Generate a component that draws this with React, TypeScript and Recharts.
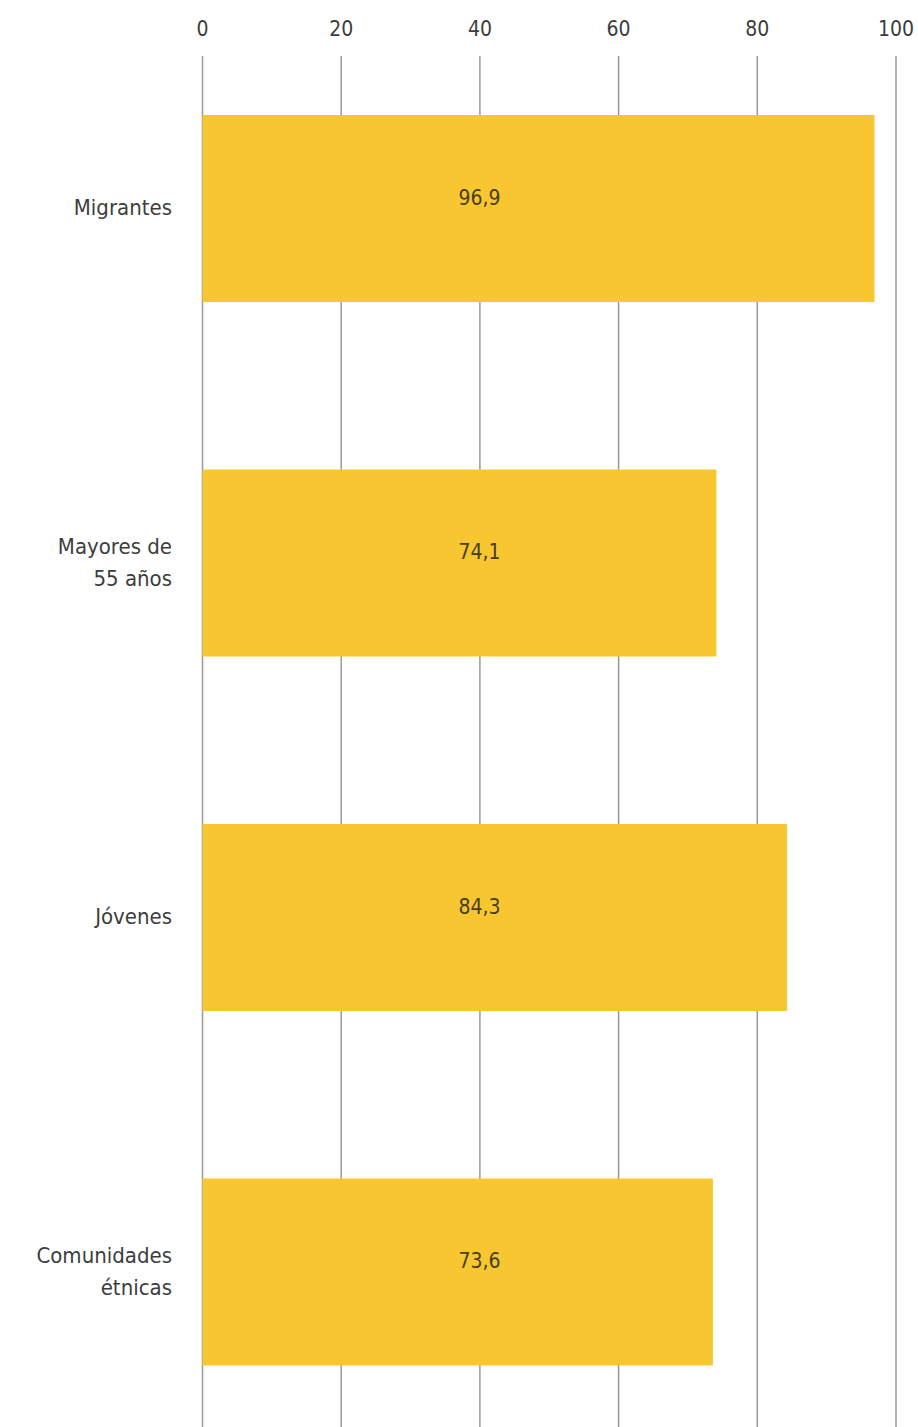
import { BarChart, Bar, XAxis, YAxis, CartesianGrid, LabelList } from "recharts";

const categories = ["Migrantes", "Mayores de 55 años", "Jóvenes", "Comunidades étnicas"];
const categoryLines = [["Migrantes"], ["Mayores de", "55 años"], ["Jóvenes"], ["Comunidades", "étnicas"]];
const values = [96.9, 74.1, 84.3, 73.6];
const ticks = [0, 20, 40, 60, 80, 100];

const data = categories.map((name, i) => ({ name, value: values[i], lines: categoryLines[i] }));

const FONT = "'DejaVu Sans Condensed', 'DejaVu Sans', sans-serif";
const TEXT = "#3d3d3d";

// eslint-disable-next-line @typescript-eslint/no-explicit-any
const XTick = (props: any) => {
  const { x, payload } = props;
  return (
    <text x={x} y={36} textAnchor="middle" fontFamily={FONT} fontSize={21} fill={TEXT}>
      {payload.value}
    </text>
  );
};

// eslint-disable-next-line @typescript-eslint/no-explicit-any
const YTick = (props: any) => {
  const { y, payload, index } = props;
  const lines = categoryLines[index] ?? [payload.value];
  const lh = 32;
  const start = y - ((lines.length - 1) * lh) / 2 + 7;
  return (
    <text x={172} y={start} textAnchor="end" fontFamily={FONT} fontSize={22} fill={TEXT}>
      {lines.map((l: string, i: number) => (
        <tspan key={i} x={172} dy={i === 0 ? 0 : lh}>{l}</tspan>
      ))}
    </text>
  );
};

// eslint-disable-next-line @typescript-eslint/no-explicit-any
const renderValue = (props: any) => {
  const { x, y, height, value } = props;
  return (
    <text x={x + 277} y={y + height / 2 - 4} textAnchor="middle" fontFamily={FONT} fontSize={21} fill="#473f1c">
      {String(value).replace(".", ",")}
    </text>
  );
};

// eslint-disable-next-line @typescript-eslint/no-explicit-any
const gridLine = (props: any) => (
  <line key={props.key} x1={props.x1} x2={props.x2} y1={56} y2={props.y2} stroke="#999" strokeWidth={1.5} />
);

export default function App() {
  return (
    <div style={{ position: "absolute", left: 0, top: 0, width: 918, height: 1427, overflow: "hidden", background: "#fff" }}>
      <BarChart
        width={918}
        height={1460}
        data={data}
        layout="vertical"
        margin={{ top: 0, right: 22, bottom: 11, left: 0 }}
        barSize={187}
      >
        <CartesianGrid horizontal={false} vertical={gridLine} />
        <XAxis
          type="number"
          orientation="top"
          domain={[0, 100]}
          ticks={ticks}
          axisLine={false}
          tickLine={false}
          height={31}
          tick={<XTick />}
          interval={0}
        />
        <YAxis
          type="category"
          dataKey="name"
          width={202.5}
          axisLine={false}
          tickLine={false}
          tick={<YTick />}
          interval={0}
        />
        <Bar dataKey="value" fill="#F8C630" isAnimationActive={false}>
          <LabelList dataKey="value" content={renderValue} />
        </Bar>
      </BarChart>
    </div>
  );
}
